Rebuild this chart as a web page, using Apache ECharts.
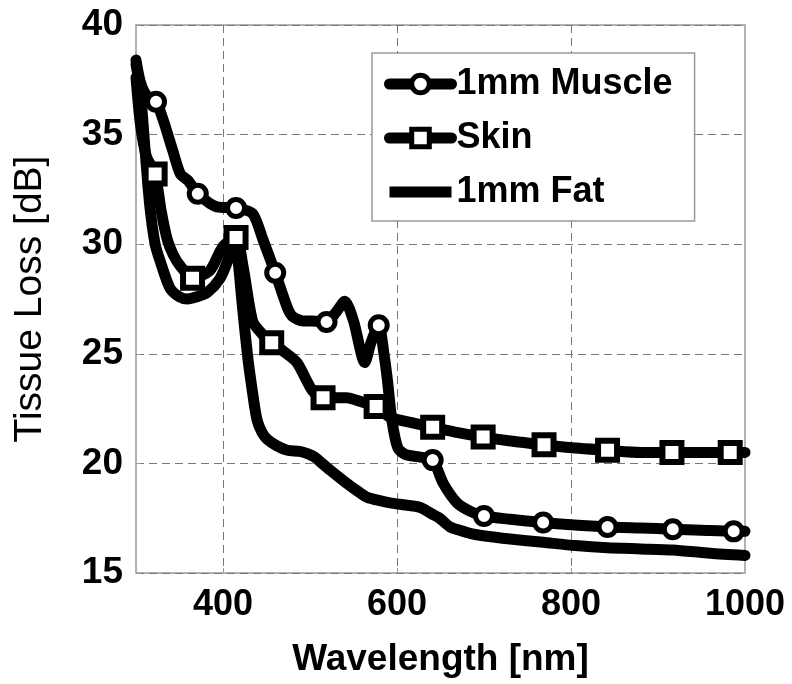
<!DOCTYPE html>
<html>
<head>
<meta charset="utf-8">
<script src="https://cdn.jsdelivr.net/npm/echarts@6/dist/echarts.min.js"></script>
<style>
  html, body { margin: 0; padding: 0; background: #fff; }
  #chart { width: 792px; height: 684px; }
</style>
</head>
<body>
<div id="chart"></div>
<script>
// ---- data ----
const seriesNames = ['1mm Muscle', 'Skin', '1mm Fat'];

const muscleX = [300, 305, 312, 323, 331, 342, 351, 360, 371, 393, 415, 434, 446, 460, 474, 480, 492, 503, 519, 530, 540, 550, 563, 570, 579, 585, 589, 594, 601, 610, 625, 641, 653, 669, 685, 700, 730, 768, 800, 842, 880, 917, 950, 987, 1000];
const muscleY = [38.4, 37.4, 36.8, 36.5, 35.7, 34.3, 33.2, 32.9, 32.3, 31.7, 31.65, 31.4, 30.2, 28.7, 27.1, 26.7, 26.5, 26.5, 26.45, 26.9, 27.4, 26.5, 24.6, 25.5, 26.3, 25.0, 23.8, 22.0, 20.7, 20.4, 20.3, 20.15, 19.1, 18.2, 17.8, 17.6, 17.45, 17.3, 17.2, 17.1, 17.05, 17.0, 16.95, 16.9, 16.9];
const muscleMarkX = [323, 371, 415, 460, 519, 579, 641, 700, 768, 842, 917, 987];
const muscleMarkY = [36.5, 32.3, 31.65, 28.7, 26.45, 26.3, 20.15, 17.6, 17.3, 17.1, 17.0, 16.9];

const skinX = [300, 305, 312, 322, 329, 336, 343, 351, 365, 385, 400, 415, 423, 434, 445, 456, 470, 485, 503, 515, 542, 560, 576, 592, 618, 641, 670, 699, 735, 769, 805, 842, 880, 916, 950, 983, 1000];
const skinY = [37.6, 35.5, 34.0, 33.2, 31.5, 30.2, 29.5, 29.0, 28.45, 28.8, 29.9, 30.3, 29.0, 26.5, 25.9, 25.5, 25.1, 24.6, 23.3, 23.0, 23.0, 22.8, 22.6, 22.1, 21.85, 21.65, 21.4, 21.2, 21.0, 20.85, 20.7, 20.6, 20.5, 20.5, 20.5, 20.5, 20.5];
const skinMarkX = [322, 365, 415, 456, 515, 576, 641, 699, 769, 842, 916, 983];
const skinMarkY = [33.2, 28.45, 30.3, 25.5, 23.0, 22.6, 21.65, 21.2, 20.85, 20.6, 20.5, 20.5];

const fatX = [300, 305, 310, 316, 322, 328, 339, 350, 359, 370, 382, 396, 405, 410, 414, 418, 422, 428, 433, 439, 445, 451, 462, 474, 488, 497, 505, 511, 523, 542, 556, 566, 580, 592, 610, 626, 640, 649, 661, 672, 685, 699, 730, 768, 805, 842, 880, 917, 960, 1000];
const fatY = [38.2, 37.0, 34.5, 31.7, 30.0, 29.2, 28.0, 27.6, 27.5, 27.6, 27.8, 28.4, 29.2, 29.9, 30.2, 29.0, 27.3, 25.0, 23.5, 22.0, 21.4, 21.1, 20.8, 20.6, 20.55, 20.45, 20.3, 20.1, 19.7, 19.1, 18.7, 18.45, 18.3, 18.2, 18.1, 18.0, 17.7, 17.5, 17.1, 16.95, 16.8, 16.7, 16.55, 16.4, 16.25, 16.15, 16.1, 16.05, 15.9, 15.8];

const xTickLabels = [400, 600, 800, 1000];
const xGridTicks = [400, 600, 800];
const yMin = 15, yMax = 40, yStep = 5;
const xMin = 300, xMax = 1000;
const xAxisName = 'Wavelength [nm]';
const yAxisName = 'Tissue Loss [dB]';

// ---- build ----
const zip = (xs, ys) => xs.map((x, i) => [x, ys[i]]);
const FONT = '"Liberation Sans", Arial, Helvetica, sans-serif';
const LW = 11;

const lineBase = {
  type: 'line', showSymbol: false, smooth: 0.25, animation: false, silent: true,
  lineStyle: { color: '#000', width: LW, cap: 'round', join: 'round' },
  itemStyle: { color: '#000' }
};
const markBase = {
  type: 'scatter', animation: false, silent: true, z: 5,
  itemStyle: { color: '#fff', borderColor: '#000', opacity: 1 }
};

const chart = echarts.init(document.getElementById('chart'), null, { renderer: 'canvas' });
chart.setOption({
  animation: false,
  backgroundColor: '#fff',
  textStyle: { fontFamily: FONT },
  grid: { left: 136, right: 47, top: 25, bottom: 111, show: true, borderColor: '#999', borderWidth: 1.5, backgroundColor: '#fff' },
  xAxis: {
    type: 'value', min: xMin, max: xMax,
    name: xAxisName, nameLocation: 'middle', nameGap: 68,
    nameTextStyle: { fontSize: 37, fontWeight: 'bold', color: '#000', fontFamily: FONT },
    axisLine: { show: false },
    axisTick: { show: true, inside: true, length: 5, customValues: xGridTicks, lineStyle: { color: '#999' } },
    axisLabel: { customValues: xTickLabels, formatter: v => String(v), fontSize: 36, fontWeight: 'bold', color: '#000', margin: 14, fontFamily: FONT },
    splitLine: { show: true, lineStyle: { color: '#777', width: 1, type: [8, 5] } }
  },
  yAxis: {
    type: 'value', min: yMin, max: yMax, interval: yStep,
    name: yAxisName, nameLocation: 'middle', nameGap: 86,
    nameTextStyle: { fontSize: 39, fontWeight: 'normal', color: '#000', fontFamily: FONT },
    axisLine: { show: false },
    axisTick: { show: true, inside: true, length: 5, lineStyle: { color: '#999' } },
    axisLabel: { fontSize: 37, fontWeight: 'bold', color: '#000', margin: 13, fontFamily: FONT },
    splitLine: { show: true, lineStyle: { color: '#777', width: 1, type: [8, 5] } }
  },
  legend: {
    left: 372, top: 53, orient: 'vertical',
    padding: [13, 22, 11, 12], itemGap: 18,
    itemWidth: 62, itemHeight: 22,
    backgroundColor: '#fff', borderColor: '#999', borderWidth: 1.5,
    textStyle: { fontSize: 36, fontWeight: 'bold', color: '#000', fontFamily: FONT },
    data: [
      { name: seriesNames[0], itemStyle: { color: '#fff', borderColor: '#000', borderWidth: 5 }, lineStyle: { color: '#000', width: LW } },
      { name: seriesNames[1], itemStyle: { color: '#fff', borderColor: '#000', borderWidth: 5 }, lineStyle: { color: '#000', width: LW } },
      { name: seriesNames[2], icon: 'path://M0,0H62V11H0Z', itemStyle: { color: '#000', borderWidth: 0 } }
    ]
  },
  series: [
    Object.assign({}, lineBase, { name: seriesNames[0], symbol: 'circle', data: zip(muscleX, muscleY), z: 2 }),
    Object.assign({}, lineBase, { name: seriesNames[1], symbol: 'rect', data: zip(skinX, skinY), z: 2 }),
    Object.assign({}, lineBase, { name: seriesNames[2], symbol: 'none', data: zip(fatX, fatY), z: 2 }),
    Object.assign({}, markBase, { name: seriesNames[0], symbol: 'circle', symbolSize: 17, itemStyle: Object.assign({}, markBase.itemStyle, { borderWidth: 5 }), data: zip(muscleMarkX, muscleMarkY) }),
    Object.assign({}, markBase, { name: seriesNames[1], symbol: 'rect', symbolSize: 19, itemStyle: Object.assign({}, markBase.itemStyle, { borderWidth: 6 }), data: zip(skinMarkX, skinMarkY) })
  ]
});
</script>
</body>
</html>
